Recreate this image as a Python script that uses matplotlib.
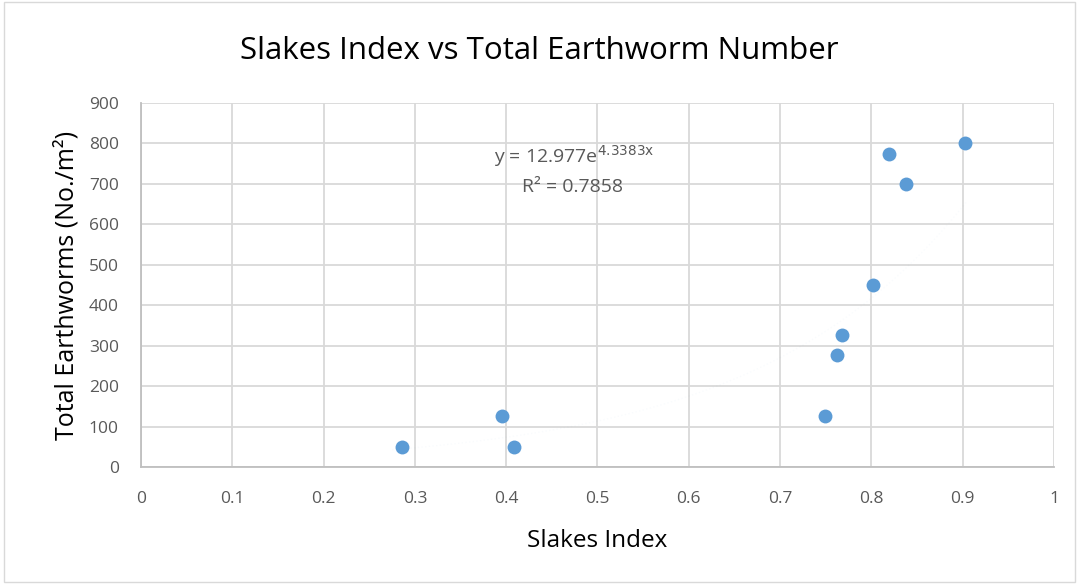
import numpy as np
import matplotlib.pyplot as plt
from matplotlib.patches import Rectangle

# Data
slakes_index = [0.286, 0.395, 0.408, 0.749, 0.762, 0.768, 0.802, 0.819, 0.838, 0.903]
earthworms = [50, 125, 50, 125, 277, 327, 450, 775, 700, 800]
x_ticks = [0, 0.1, 0.2, 0.3, 0.4, 0.5, 0.6, 0.7, 0.8, 0.9, 1]
y_ticks = [0, 100, 200, 300, 400, 500, 600, 700, 800, 900]

# exponential trendline (Excel style)
TREND_A = 12.977
TREND_B = 4.3383
TREND_R2 = 0.7858
TREND_RANGE = (0.275, 0.905)

plt.rcParams['font.family'] = ['Open Sans', 'DejaVu Sans']

fig = plt.figure(figsize=(10.79, 5.84), dpi=100)
ax = fig.add_axes([0.1307, 0.2003, 0.9768 - 0.1307, 0.8236 - 0.2003])

ax.set_xlim(0, 1)
ax.set_ylim(0, 900)
ax.set_xticks(x_ticks)
ax.set_yticks(y_ticks)
ax.set_xticklabels([f"{t:g}" for t in x_ticks])
ax.grid(True, color='#d9d9d9', linewidth=1.3)
ax.set_axisbelow(True)
ax.tick_params(length=0, labelsize=12.5, colors='#595959')
ax.tick_params(axis='x', pad=17)
ax.tick_params(axis='y', pad=16)
for side in ['top', 'right']:
    ax.spines[side].set_visible(False)
for side in ['left', 'bottom']:
    ax.spines[side].set_color('#bfbfbf')
    ax.spines[side].set_linewidth(1.3)

# trendline: barely visible in the original
tx = np.linspace(TREND_RANGE[0], TREND_RANGE[1], 200)
ax.plot(tx, TREND_A * np.exp(TREND_B * tx), color='#5b9bd5', lw=1.0,
        ls=':', alpha=0.03, zorder=2)

ax.scatter(slakes_index, earthworms, s=100, color='#5b9bd5', zorder=3,
           linewidths=0)

ax.text(0.475, 768, f"y = {TREND_A}e$^{{\\mathrm{{{TREND_B}x}}}}$", fontsize=14,
        color='#595959', ha='center', va='center')
ax.text(0.473, 692, f"R² = {TREND_R2}", fontsize=14, color='#595959',
        ha='center', va='center')

ax.set_xlabel("Slakes Index", fontsize=17.5, labelpad=16)
ax.set_ylabel("Total Earthworms (No./m²)", fontsize=18, labelpad=7)
fig.text(0.5, 0.912, "Slakes Index vs Total Earthworm Number", fontsize=22.5,
         ha='center', va='center')

# chart border
fig.patches.append(Rectangle((0.004, 0.004), 0.992, 0.992, transform=fig.transFigure,
                             fill=False, edgecolor='#d9d9d9', lw=1))

fig.savefig("out.png", dpi=100)
